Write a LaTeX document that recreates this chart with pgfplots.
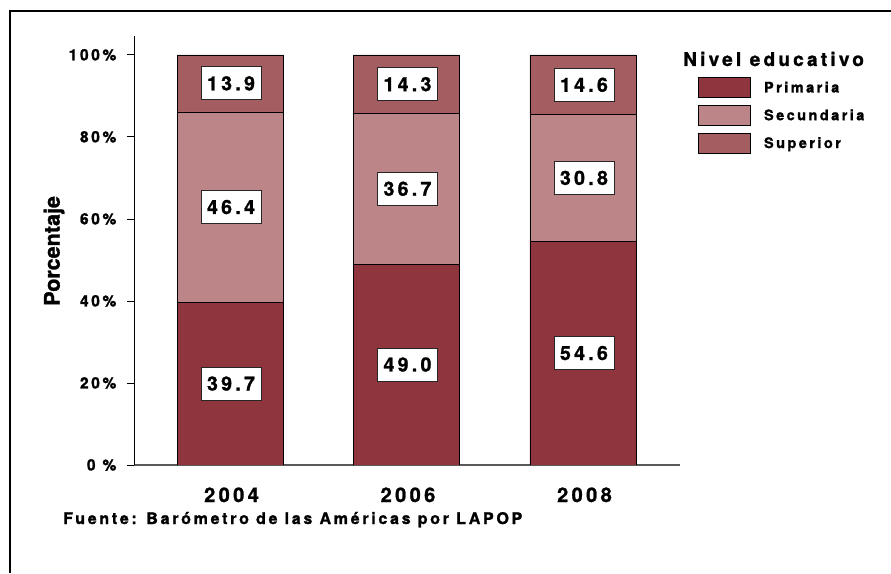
\documentclass[border=0pt]{standalone}
\usepackage{pgfplots}
\pgfplotsset{compat=1.18}
\usepackage{fontspec}
\setmainfont{TeX Gyre Heros}
\newfontfamily\widef{TeX Gyre Heros}[LetterSpace=17, FakeBold=1.3]
\newfontfamily\heavyf{TeX Gyre Heros}[FakeBold=1.3]
\newcommand{\wide}{\widef\bfseries}
\newcommand{\bsans}{\heavyf\bfseries}
\definecolor{prim}{RGB}{142,53,62}
\definecolor{sec}{RGB}{188,133,135}
\definecolor{sup}{RGB}{164,94,98}
\pgfplotsset{
  swatch/.style={legend image code/.code={\draw[##1, line width=0.8pt] (0pt,-10pt) rectangle (52pt,10pt);}}
}
\begin{document}
\begin{tikzpicture}[x=1pt,y=1pt]
\useasboundingbox (0,0) rectangle (891,573);
\draw[line width=2pt] (10,0) -- (10,562) -- (891,562);
\begin{axis}[
  at={(134pt,108pt)}, anchor=south west,
  scale only axis, width=546pt, height=429pt,
  xmin=-0.544, xmax=2.55, ymin=0, ymax=104.6,
  enlargelimits=false,
  ybar stacked, bar width=106pt,
  axis x line*=bottom, axis y line*=left,
  axis line style={-},
  x axis line style={draw=black!65, line width=1.5pt},
  y axis line style={draw=black, line width=0.8pt},
  xtick={0,1,2}, xticklabels={2004,2006,2008},
  xtick style={draw=none},
  ytick={0,20,40,60,80,100},
  yticklabels={0 \%,20\%,40\%,60\%,80\%,100\%},
  ytick style={draw=black, line width=0.8pt},
  tick align=outside, major tick length=7pt,
  xticklabel style={font=\wide\fontsize{20}{20}\selectfont, anchor=base, yshift=-30pt, xshift=1.5pt, inner sep=0pt},
  yticklabel style={font=\wide\fontsize{15.5}{16}\selectfont, anchor=east, inner sep=0pt, xshift=-10.5pt},
  ylabel={Porcentaje},
  every axis y label/.style={at={(axis description cs:-0.1465,0.499)}, rotate=90, anchor=center, font=\bsans\fontsize{21.5}{22}\selectfont},
  legend style={at={(axis description cs:1.033,0.904)}, anchor=north west, draw=none, fill=none,
    inner sep=0pt, row sep=7pt, font=\wide\fontsize{14.5}{15}\selectfont,
    nodes={inner sep=0pt}, /tikz/every odd column/.append style={column sep=13pt}},
  legend cell align=left,
]
\addplot[fill=prim, draw=black, line width=0.6pt, swatch] coordinates {(0,39.7) (1,49.0) (2,54.6)};
\addlegendentry{Primaria}
\addplot[fill=sec, draw=black, line width=0.6pt, swatch] coordinates {(0,46.4) (1,36.7) (2,30.8)};
\addlegendentry{Secundaria}
\addplot[fill=sup, draw=black, line width=0.6pt, swatch] coordinates {(0,13.9) (1,14.3) (2,14.6)};
\addlegendentry{Superior}
\end{axis}
\begin{axis}[
  at={(134pt,108pt)}, anchor=south west,
  scale only axis, width=546pt, height=429pt,
  xmin=-0.544, xmax=2.55, ymin=0, ymax=104.6,
  enlargelimits=false, hide axis,
]
\addplot[only marks, mark=*, mark size=0.01pt, mark options={draw=none, fill=none},
  nodes near coords={\pgfplotspointmeta}, point meta=explicit symbolic,
  every node near coord/.style={anchor=center, fill=white, draw=black!85, line width=0.8pt,
    minimum width=60pt, minimum height=33pt, inner sep=0pt, text=black, xshift=1pt,
    font=\wide\fontsize{19.5}{20}\selectfont}]
  coordinates {
    (0,19.85) [39.7] (1,24.5) [49.0] (2,27.3) [54.6]
    (0,62.9) [46.4] (1,67.35) [36.7] (2,70.0) [30.8]
    (0,93.05) [13.9] (1,92.85) [14.3] (2,92.7) [14.6]
  };
\end{axis}
\node[anchor=base west, inner sep=0pt, font=\wide\fontsize{19}{19}\selectfont] at (683,507) {Nivel educativo};
\node[anchor=base west, inner sep=0pt, font=\wide\fontsize{16}{16}\selectfont] at (63,49) {Fuente: Barómetro de las Américas por LAPOP};
\end{tikzpicture}
\end{document}
